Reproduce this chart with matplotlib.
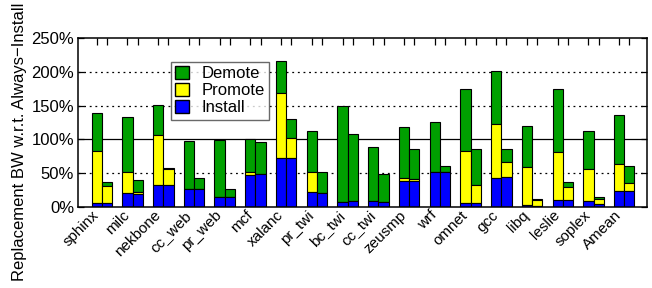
import matplotlib
matplotlib.use("Agg")
import matplotlib.pyplot as plt
import numpy as np
from matplotlib.patches import Patch

plt.rcParams["font.family"] = ["Liberation Sans", "DejaVu Sans"]

# ---------------------------------------------------------------------------
# Data, in percent of Always-Install
# two bars per benchmark: "a" = first (left) bar, "b" = second (right) bar
# values are cumulative tops of each stacked segment
# ---------------------------------------------------------------------------
benchmarks = ["sphinx", "milc", "nekbone", "cc_web", "pr_web", "mcf", "xalanc",
              "pr_twi", "bc_twi", "cc_twi", "zeusmp", "wrf", "omnet", "gcc",
              "libq", "leslie", "soplex", "Amean"]

install_a = [5, 21, 33, 27, 14, 47, 72, 22, 7, 8, 38, 51, 5, 43, 2, 10, 8, 24]
promote_a = [83, 51, 106, 27, 14, 52, 169, 51, 7, 8, 42, 51, 83, 123, 59, 81, 56, 63]
demote_a = [139, 133, 151, 98, 99, 101, 216, 113, 150, 89, 118, 126, 174, 201, 120, 174, 113, 136]

install_b = [5, 19, 33, 27, 14, 48, 73, 20, 8, 7, 38, 52, 5, 44, 1, 10, 4, 24]
promote_b = [31, 22, 56, 27, 14, 48, 102, 21, 8, 7, 41, 52, 33, 67, 10, 30, 11, 35]
demote_b = [36, 40, 57, 42, 27, 96, 130, 51, 108, 48, 86, 60, 85, 86, 11, 37, 15, 60]

GREEN = "#00a000"
YELLOW = "#ffff00"
BLUE = "#0000ff"

n = len(benchmarks)
xa = np.arange(n) * 3.0
xb = xa + 1.0
W = 1.0

fig, ax = plt.subplots(figsize=(6.52, 2.88), dpi=100)
fig.subplots_adjust(left=0.12, right=0.992, top=0.868, bottom=0.282)

for x, ins, pro, dem in ((xa, install_a, promote_a, demote_a),
                         (xb, install_b, promote_b, demote_b)):
    ins = np.array(ins, float)
    pro = np.array(pro, float)
    dem = np.array(dem, float)
    kw = dict(width=W, edgecolor="black", linewidth=0.8, zorder=3)
    ax.bar(x, dem - pro, bottom=pro, color=GREEN, **kw)
    ax.bar(x, pro - ins, bottom=ins, color=YELLOW, **kw)
    ax.bar(x, ins, color=BLUE, **kw)

# legend
handles = [Patch(facecolor=GREEN, edgecolor="black", label="Demote"),
           Patch(facecolor=YELLOW, edgecolor="black", label="Promote"),
           Patch(facecolor=BLUE, edgecolor="black", label="Install")]
leg = ax.legend(handles=handles, loc="upper left", bbox_to_anchor=(0.163, 0.86),
                fontsize=12, frameon=True, fancybox=False, borderpad=0.25,
                labelspacing=0.1, handlelength=0.85, handleheight=0.85,
                handletextpad=0.75, borderaxespad=0)
leg.get_frame().set_edgecolor("#444444")
leg.get_frame().set_linewidth(1.0)
leg.set_zorder(5)

# grid lines: dotted, solid at 100%
for v in (50, 150, 200):
    ax.axhline(v, color="black", linestyle=(0, (1.5, 3)), linewidth=0.9, zorder=1)
ax.axhline(100, color="black", linewidth=0.9, zorder=1)

ax.set_xlim(-1.8, xb[-1] + 0.5 + 1.2)
ax.set_ylim(0, 250)
ticks = [0, 50, 100, 150, 200, 250]
ax.set_yticks(ticks)
ax.set_yticklabels([f"{v}%" for v in ticks], fontsize=12)
ax.tick_params(axis="y", direction="in", right=True, length=4, width=0.9, pad=3)

ax.set_xticks(xa + 0.5)
ax.set_xticklabels(benchmarks, rotation=45, ha="right", fontsize=11)
ax.tick_params(axis="x", which="major", length=0, pad=1)
ax.set_xticks(np.concatenate([xa, xb]), minor=True)
ax.tick_params(axis="x", which="minor", direction="in", top=True, bottom=False,
               length=5, width=0.9)

for s in ax.spines.values():
    s.set_linewidth(1.1)
    s.set_zorder(4)

ax.set_ylabel("Replacement BW w.r.t. Always\u2212Install", fontsize=12, labelpad=3)
ax.yaxis.set_label_coords(-0.09, 0.385)

fig.savefig("out.png", dpi=100)
